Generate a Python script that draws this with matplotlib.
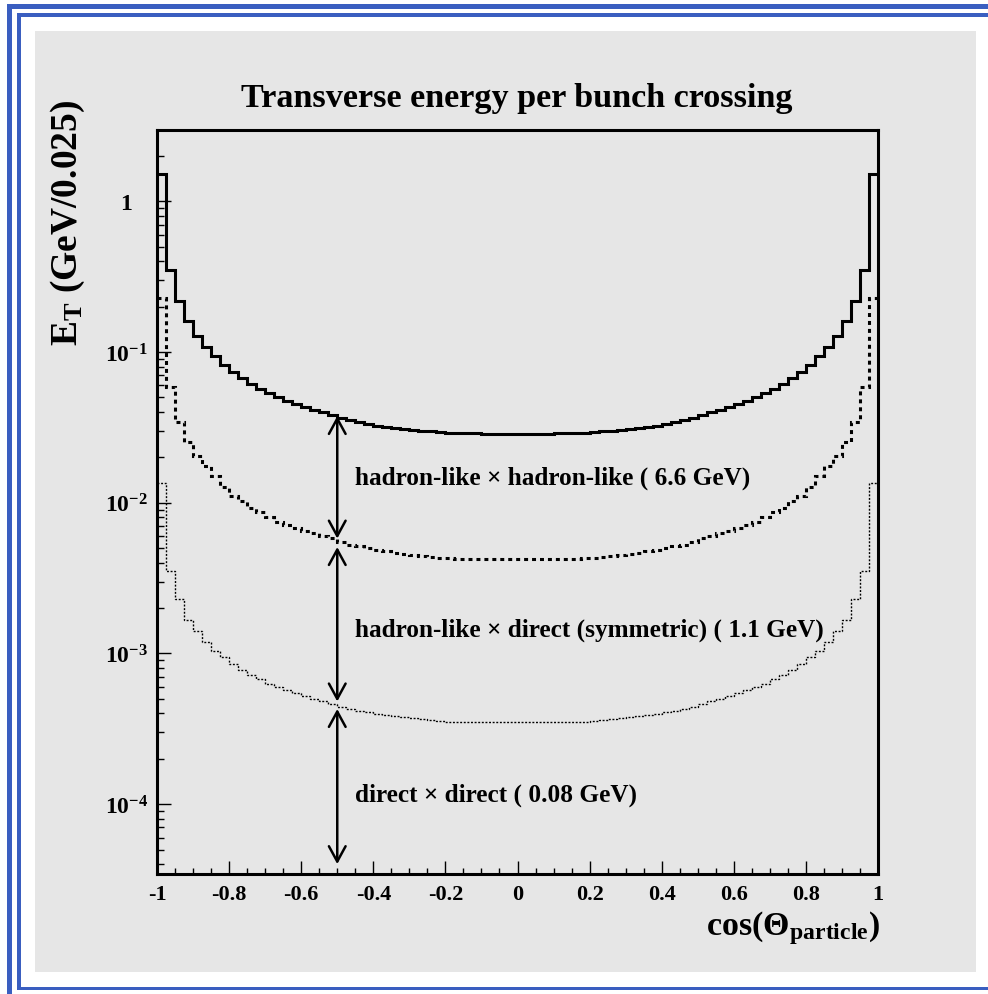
import numpy as np
import matplotlib
matplotlib.use("Agg")
import matplotlib.pyplot as plt
from matplotlib.patches import Rectangle
from matplotlib.ticker import FixedLocator, LogLocator, NullFormatter

plt.rcParams['font.family'] = 'Liberation Serif'
plt.rcParams['font.weight'] = 'bold'
plt.rcParams['mathtext.fontset'] = 'custom'
plt.rcParams['mathtext.rm'] = 'Liberation Serif:bold'
plt.rcParams['mathtext.bf'] = 'Liberation Serif:bold'
plt.rcParams['mathtext.it'] = 'Liberation Serif:bold'

# E_T per bin (GeV / 0.025), 80 bins in cos(theta) from -1 to 1
hadron_hadron = [
    1.52, 0.350, 0.218, 0.161, 0.128, 0.108, 0.094, 0.082, 0.0736, 0.0672,
    0.0613, 0.0568, 0.0535, 0.0503, 0.0472, 0.0451, 0.0431, 0.0412, 0.0400, 0.0382,
    0.0365, 0.0354, 0.0343, 0.0333, 0.0325, 0.0318, 0.0313, 0.0308, 0.0303, 0.0299,
    0.0297, 0.0294, 0.0292, 0.0290, 0.0288, 0.0288, 0.0287, 0.0286, 0.0286, 0.0286,
    0.0286, 0.0286, 0.0286, 0.0287, 0.0288, 0.0288, 0.0290, 0.0292, 0.0294, 0.0297,
    0.0299, 0.0303, 0.0308, 0.0313, 0.0318, 0.0325, 0.0333, 0.0343, 0.0354, 0.0365,
    0.0382, 0.0400, 0.0412, 0.0431, 0.0451, 0.0472, 0.0503, 0.0535, 0.0568, 0.0613,
    0.0672, 0.0736, 0.082, 0.094, 0.108, 0.128, 0.161, 0.218, 0.350, 1.52,
]
hadron_direct = [
    0.228, 0.0585, 0.0343, 0.0252, 0.0204, 0.0175, 0.0150, 0.0127, 0.0111, 0.0103,
    0.00922, 0.00867, 0.00803, 0.00744, 0.00711, 0.00679, 0.00649, 0.00629, 0.00601, 0.00583,
    0.00548, 0.00524, 0.00516, 0.00500, 0.00485, 0.00478, 0.00463, 0.00457, 0.00450, 0.00443,
    0.00436, 0.00430, 0.00430, 0.00425, 0.00423, 0.00423, 0.00422, 0.00422, 0.00421, 0.00421,
    0.00421, 0.00421, 0.00422, 0.00422, 0.00423, 0.00423, 0.00425, 0.00430, 0.00430, 0.00436,
    0.00443, 0.00450, 0.00457, 0.00463, 0.00478, 0.00485, 0.00500, 0.00516, 0.00524, 0.00548,
    0.00583, 0.00601, 0.00629, 0.00649, 0.00679, 0.00711, 0.00744, 0.00803, 0.00867, 0.00922,
    0.0103, 0.0111, 0.0127, 0.0150, 0.0175, 0.0204, 0.0252, 0.0343, 0.0585, 0.228,
]
direct_direct = [
    0.0135, 0.00352, 0.00230, 0.00167, 0.00141, 0.00119, 0.00104, 0.000946, 0.000851, 0.000776,
    0.000719, 0.000676, 0.000626, 0.000598, 0.000571, 0.000546, 0.000521, 0.000498, 0.000483, 0.000461,
    0.000441, 0.000428, 0.000415, 0.000409, 0.000396, 0.000390, 0.000385, 0.000379, 0.000373, 0.000367,
    0.000361, 0.000356, 0.000353, 0.000351, 0.000351, 0.000350, 0.000350, 0.000350, 0.000350, 0.000350,
    0.000350, 0.000350, 0.000350, 0.000350, 0.000350, 0.000351, 0.000351, 0.000353, 0.000356, 0.000361,
    0.000367, 0.000373, 0.000379, 0.000385, 0.000390, 0.000396, 0.000409, 0.000415, 0.000428, 0.000441,
    0.000461, 0.000483, 0.000498, 0.000521, 0.000546, 0.000571, 0.000598, 0.000626, 0.000676, 0.000719,
    0.000776, 0.000851, 0.000946, 0.00104, 0.00119, 0.00141, 0.00167, 0.00230, 0.00352, 0.0135,
]

# arrows at cos = -0.5 between the curves
arrow_x = -0.5
arrow_spans = [(0.0376, 0.00578), (0.00508, 0.00048), (0.000428, 4.0e-5)]
labels = ["hadron-like \u00d7 hadron-like ( 6.6 GeV)",
          "hadron-like \u00d7 direct (symmetric) ( 1.1 GeV)",
          "direct \u00d7 direct ( 0.08 GeV)"]
label_y = [0.0148, 0.00145, 1.17e-4]

xticks = [-1, -0.8, -0.6, -0.4, -0.2, 0, 0.2, 0.4, 0.6, 0.8, 1]
xticklabels = ["-1", "-0.8", "-0.6", "-0.4", "-0.2", "0", "0.2", "0.4", "0.6", "0.8", "1"]
yticks = [1e-4, 1e-3, 1e-2, 1e-1, 1]
yticklabels = [r"$10^{-4}$", r"$10^{-3}$", r"$10^{-2}$", r"$10^{-1}$", "1"]

W, H = 988, 995
gray = "#e6e6e6"
blue = "#3a5ec0"

fig = plt.figure(figsize=(W / 100, H / 100), dpi=100)
fig.patch.set_facecolor("white")


def box(x0, y0, x1, y1, color):
    fig.add_artist(Rectangle((x0 / W, 1 - y1 / H), (x1 - x0) / W, (y1 - y0) / H,
                             transform=fig.transFigure, facecolor=color,
                             edgecolor="none", zorder=-2))


# canvas background and frame
box(35, 32, 976, 973, gray)
box(7, 5, 11.5, 995, blue)
box(7, 5, 988, 9.5, blue)
box(17, 14, 20.5, 991, blue)
box(17, 14, 988, 17.5, blue)
box(17, 987.5, 988, 991, blue)

ax = fig.add_axes([157 / W, 1 - 875 / H, (878 - 157) / W, (875 - 131) / H])
ax.set_facecolor(gray)

edges = np.linspace(-1, 1, len(hadron_hadron) + 1)
ax.stairs(hadron_hadron, edges, baseline=None, color="k", lw=2.2)
ax.stairs(hadron_direct, edges, baseline=None, color="k", lw=2.2, ls=(0, (1.3, 1.3)))
ax.stairs(direct_direct, edges, baseline=None, color="k", lw=1.0, ls=(0, (1.4, 1.2)))

ax.set_yscale("log")
ax.set_xlim(-1, 1)
ax.set_ylim(3.44e-5, 2.97)

for (y0, y1) in arrow_spans:
    ax.annotate("", xy=(arrow_x, y1), xytext=(arrow_x, y0),
                arrowprops=dict(arrowstyle="<->,head_length=0.55,head_width=0.3",
                                color="k", lw=1.8, shrinkA=0, shrinkB=0,
                                mutation_scale=20))

for txt, y in zip(labels, label_y):
    ax.text(-0.451, y, txt, fontsize=18.2, fontweight="bold", va="center", ha="left")

for s in ax.spines.values():
    s.set_linewidth(2.2)

ax.xaxis.set_major_locator(FixedLocator(xticks))
ax.set_xticklabels(xticklabels)
ax.xaxis.set_minor_locator(FixedLocator(np.arange(-1, 1.001, 0.05)))
ax.yaxis.set_major_locator(FixedLocator(yticks))
ax.set_yticklabels(yticklabels)
ax.yaxis.set_minor_locator(LogLocator(base=10, subs=np.arange(2, 10), numticks=20))
ax.yaxis.set_minor_formatter(NullFormatter())

ax.tick_params(axis="both", which="both", direction="in", top=False, right=False,
               width=1.0)
ax.tick_params(axis="x", which="major", length=9.5, pad=7, labelsize=16)
ax.tick_params(axis="x", which="minor", length=4.5)
ax.tick_params(axis="y", which="major", length=10, pad=22, labelsize=17)
ax.tick_params(axis="y", which="minor", length=5)
for lab in ax.get_yticklabels():
    lab.set_horizontalalignment("center")

fig.text(517 / W, 1 - 107 / H, "Transverse energy per bunch crossing",
         fontsize=24.6, fontweight="bold", ha="center", va="baseline")
fig.text(68 / W, 1 - 100 / H, r"$\mathrm{E_{T}}$ (GeV/0.025)",
         fontsize=27, fontweight="bold", rotation=90, ha="center", va="top")
fig.text(880 / W, 1 - 935 / H, r"cos($\Theta_{\mathrm{particle}}$)",
         fontsize=24.5, fontweight="bold", ha="right", va="baseline")

fig.savefig("out.png", dpi=100, facecolor=fig.get_facecolor())
